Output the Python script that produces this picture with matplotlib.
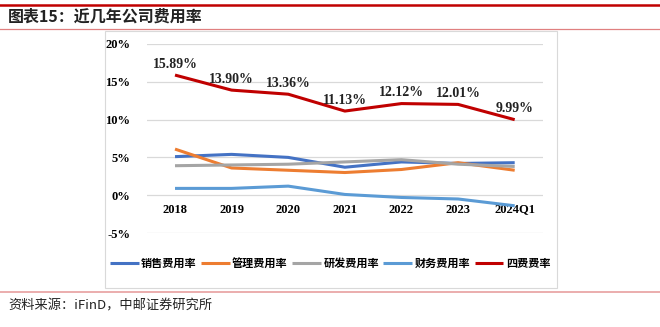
import matplotlib.pyplot as plt
from matplotlib.lines import Line2D
from matplotlib.patches import Rectangle

# data (percent)
periods = ["2018", "2019", "2020", "2021", "2022", "2023", "2024Q1"]
sales_rate = [5.1, 5.4, 5.0, 3.7, 4.4, 4.2, 4.3]
admin_rate = [6.1, 3.6, 3.3, 3.0, 3.4, 4.3, 3.3]
rd_rate = [3.9, 4.0, 4.1, 4.4, 4.7, 4.1, 3.8]
finance_rate = [0.9, 0.9, 1.2, 0.1, -0.3, -0.5, -1.4]
total_rate = [15.89, 13.90, 13.36, 11.13, 12.12, 12.01, 9.99]

series_names = ["销售费用率", "管理费用率", "研发费用率", "财务费用率", "四费费率"]
series_colors = ["#4472C4", "#ED7D31", "#A5A5A5", "#5B9BD5", "#C00000"]
series_values = [sales_rate, admin_rate, rd_rate, finance_rate, total_rate]

cjk = ["Noto Sans CJK SC", "DejaVu Sans"]
serif = "Liberation Serif"

fig = plt.figure(figsize=(6.6, 3.27), dpi=100)

# header / footer rules
fig.add_artist(Line2D([0, 1], [1 - 4.5 / 327] * 2, color="#C00000", lw=1.8))
fig.add_artist(Line2D([0, 1], [1 - 28.5 / 327] * 2, color="#E08080", lw=0.9))
fig.add_artist(Line2D([0, 1], [1 - 292 / 327] * 2, color="#E8A0A0", lw=1.2))
fig.text(8 / 660, 1 - 17 / 327, "图表15：近几年公司费用率", family=cjk,
         fontsize=11.5, fontweight="bold", va="center", ha="left", color="#222222")
fig.text(8 / 660, 1 - 306 / 327, "资料来源：iFinD，中邮证券研究所", family=cjk,
         fontsize=9.5, va="center", ha="left", color="#222222")

# chart frame
fig.add_artist(Rectangle((105 / 660, 1 - 288 / 327), 452 / 660, 257 / 327,
                         transform=fig.transFigure, fill=False,
                         edgecolor="#D9D9D9", lw=0.8))

ax = fig.add_axes([146.7 / 660, 1 - 233 / 327, 396.3 / 660, 189 / 327])
ax.spines["bottom"].set_position(("data", 0))
x = list(range(len(periods)))
for name, color, vals in zip(series_names, series_colors, series_values):
    ax.plot(x, vals, color=color, lw=2.2, label=name, solid_capstyle="butt")

for xi, v in zip(x, total_rate):
    ax.text(xi, v + 0.6, f"{v:.2f}%", ha="center", va="bottom",
            family=serif, fontweight="bold", fontsize=10, color="#222222")

ax.set_xlim(-0.5, len(periods) - 0.5)
ax.set_ylim(-5, 20)
ax.set_yticks([-5, 0, 5, 10, 15, 20])
ax.set_yticklabels([f"{t}%" for t in [-5, 0, 5, 10, 15, 20]],
                   family=serif, fontweight="bold", fontsize=9)
ax.set_xticks(x)
ax.set_xticklabels(periods, family=serif, fontweight="bold", fontsize=9)
for s in ax.spines.values():
    s.set_visible(False)
ax.tick_params(length=0)
ax.tick_params(axis="x", pad=6)
ax.tick_params(axis="y", pad=12)
ax.grid(axis="y", color="#D9D9D9", lw=0.9)
ax.set_axisbelow(True)
ax.patch.set_alpha(0)

fig.legend(loc="center", bbox_to_anchor=(330 / 660, 1 - 263 / 327), ncol=5,
           frameon=False, prop={"family": cjk, "size": 8, "weight": "bold"},
           handlelength=2.6, handletextpad=0.2, columnspacing=0.4)

fig.savefig("out.png", dpi=100)
